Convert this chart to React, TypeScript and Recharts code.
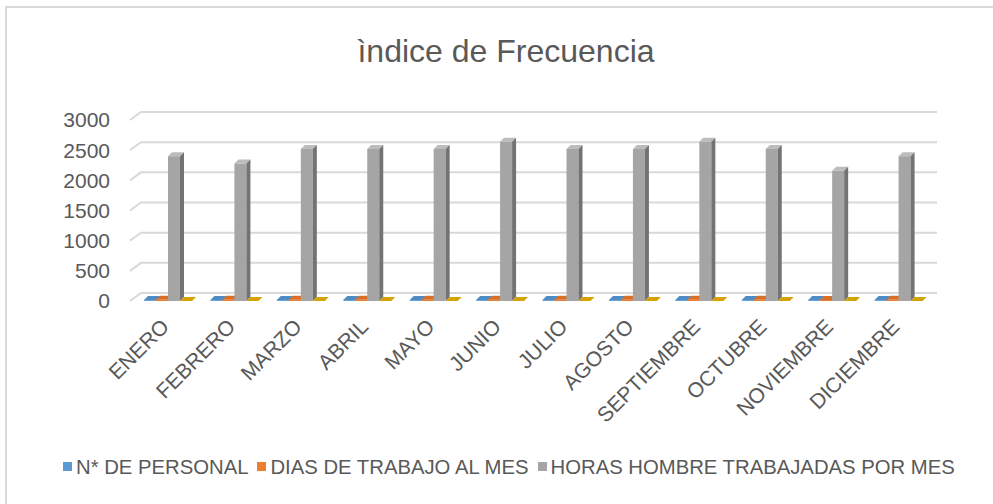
import { BarChart, Bar, XAxis, YAxis, CartesianGrid, Legend } from 'recharts'

const months = [
  'ENERO', 'FEBRERO', 'MARZO', 'ABRIL', 'MAYO', 'JUNIO',
  'JULIO', 'AGOSTO', 'SEPTIEMBRE', 'OCTUBRE', 'NOVIEMBRE', 'DICIEMBRE',
]
const personal = [15, 15, 15, 15, 15, 15, 15, 15, 15, 15, 15, 15]
const diasTrabajo = [20, 19, 21, 21, 21, 22, 21, 21, 22, 21, 18, 20]
const horasHombre = [2400, 2280, 2520, 2520, 2520, 2640, 2520, 2520, 2640, 2520, 2160, 2400]
const indice = [0, 0, 0, 0, 0, 0, 0, 0, 0, 0, 0, 0]
const yTicks = [0, 500, 1000, 1500, 2000, 2500, 3000]

const FONT = '"Liberation Sans", Arial, sans-serif'
const TEXT = '#595959'

const data = months.map((m, i) => ({
  month: m,
  personal: personal[i],
  dias: diasTrabajo[i],
  horas: horasHombre[i],
  indice: indice[i],
}))

const legendItems = [
  { label: 'N* DE PERSONAL', color: '#5b9bd5' },
  { label: 'DIAS DE TRABAJO AL MES', color: '#ed7d31' },
  { label: 'HORAS HOMBRE TRABAJADAS POR MES', color: '#a5a5a5' },
]

// 3d-ish column: front face, top face and right side
function makeBox(front: string, top: string, side: string) {
  return (props: any) => {
    const { x, y, width, height } = props
    if (x == null || y == null) return null
    const d = 4
    const h = Math.max(height || 0, 0)
    const w = width
    return (
      <g>
        <rect x={x} y={y} width={w} height={h} fill={front} />
        <polygon
          points={`${x},${y} ${x + d},${y - d} ${x + w + d},${y - d} ${x + w},${y}`}
          fill={top}
        />
        <polygon
          points={`${x + w},${y} ${x + w + d},${y - d} ${x + w + d},${y + h - d} ${x + w},${y + h}`}
          fill={side}
        />
      </g>
    )
  }
}

function GridLine(props: any) {
  const { x1, x2, y1 } = props
  return (
    <path
      d={`M${x1 - 5},${y1} L${x1 + 6},${y1 - 8} L${x2 + 5},${y1 - 8}`}
      stroke="#d9d9d9"
      strokeWidth={2}
      fill="none"
    />
  )
}

function MonthTick(props: any) {
  const { x, y, payload } = props
  const tx = x + 2
  const ty = y + 27
  return (
    <text
      x={tx}
      y={ty}
      transform={`rotate(-45 ${tx} ${ty})`}
      textAnchor="end"
      fill={TEXT}
      fontSize={21}
      fontFamily={FONT}
    >
      {payload.value}
    </text>
  )
}

function LegendContent() {
  return (
    <div
      style={{
        height: 26,
        display: 'flex',
        alignItems: 'center',
        paddingLeft: 63,
        fontFamily: FONT,
        fontSize: 20.3,
        lineHeight: '26px',
        color: TEXT,
        whiteSpace: 'nowrap',
      }}
    >
      {legendItems.map((it) => (
        <span key={it.label} style={{ display: 'flex', alignItems: 'center', marginRight: 9 }}>
          <span style={{ width: 9, height: 9, background: it.color, marginRight: 4, marginTop: -2 }} />
          {it.label}
        </span>
      ))}
    </div>
  )
}

export default function App() {
  return (
    <div
      style={{
        position: 'absolute',
        left: 0,
        top: 0,
        width: 993,
        height: 504,
        background: '#fff',
        overflow: 'hidden',
      }}
    >
      <div
        style={{
          position: 'absolute',
          left: 5,
          top: 6,
          width: 1000,
          height: 510,
          borderLeft: '2px solid #d9d9d9',
          borderTop: '2px solid #d9d9d9',
        }}
      />
      <div
        style={{
          position: 'absolute',
          left: 0,
          top: 35,
          width: 1012,
          textAlign: 'center',
          fontFamily: FONT,
          fontSize: 32,
          lineHeight: '32px',
          color: TEXT,
        }}
      >
        ìndice de Frecuencia
      </div>
      <div style={{ position: 'absolute', left: 0, top: 0 }}>
        <BarChart
          width={993}
          height={504}
          data={data}
          barSize={12}
          barGap={0}
          margin={{ top: 120, right: 61, left: 55, bottom: 24 }}
        >
          <CartesianGrid vertical={false} horizontal={(p: any) => <GridLine key={p.key ?? p.index} {...p} />} />
          <XAxis
            dataKey="month"
            interval={0}
            height={153}
            tickLine={false}
            axisLine={false}
            tickSize={0}
            tickMargin={0}
            tick={<MonthTick />}
          />
          <YAxis
            domain={[0, 3000]}
            ticks={yTicks}
            width={80}
            tickLine={false}
            axisLine={false}
            tickMargin={19}
            tick={{ fill: TEXT, fontSize: 21, fontFamily: FONT }}
          />
          <Legend
            verticalAlign="bottom"
            content={<LegendContent />}
            wrapperStyle={{ left: 0, width: 993 }}
          />
          <Bar
            dataKey="personal"
            name="N* DE PERSONAL"
            fill="#5b9bd5"
            shape={makeBox('#5b9bd5', '#4f8cc4', '#41719c')}
            isAnimationActive={false}
          />
          <Bar
            dataKey="dias"
            name="DIAS DE TRABAJO AL MES"
            fill="#ed7d31"
            shape={makeBox('#ed7d31', '#d86f28', '#ae5a21')}
            isAnimationActive={false}
          />
          <Bar
            dataKey="horas"
            name="HORAS HOMBRE TRABAJADAS POR MES"
            fill="#a5a5a5"
            shape={makeBox('#a5a5a5', '#bcbcbc', '#737373')}
            isAnimationActive={false}
          />
          <Bar
            dataKey="indice"
            name="INDICE"
            legendType="none"
            fill="#ffc000"
            shape={makeBox('#ffc000', '#d4a300', '#b08800')}
            isAnimationActive={false}
          />
        </BarChart>
      </div>
    </div>
  )
}
